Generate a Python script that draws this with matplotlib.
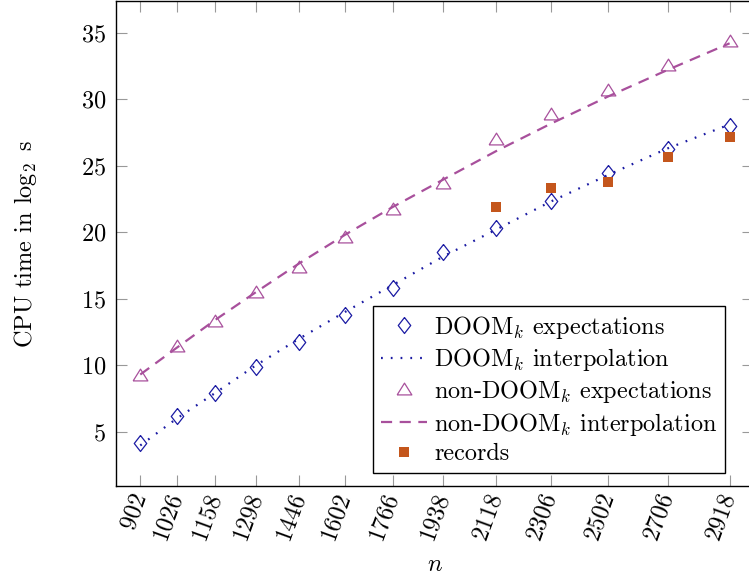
import matplotlib
matplotlib.use("Agg")
import matplotlib.pyplot as plt

plt.rcParams["font.family"] = "serif"
plt.rcParams["font.serif"] = ["cmr10", "DejaVu Serif"]
plt.rcParams["mathtext.fontset"] = "cm"
plt.rcParams["axes.formatter.use_mathtext"] = True
plt.rcParams["axes.unicode_minus"] = False

# problem sizes
n = [902, 1026, 1158, 1298, 1446, 1602, 1766, 1938, 2118, 2306, 2502, 2706, 2918]
n_labels = [str(v) for v in n]

# CPU time, log2 seconds
doom_exp = [4.15, 6.16, 7.94, 9.87, 11.76, 13.77, 15.83, 18.49, 20.33, 22.37, 24.45, 26.27, 28.02]
doom_interp = [3.97, 5.98, 7.91, 10.0, 12.0, 14.0, 16.03, 18.17, 20.18, 22.3, 24.3, 26.3, 28.1]
nondoom_exp = [9.17, 11.38, 13.24, 15.45, 17.29, 19.55, 21.68, 23.6, 26.95, 28.82, 30.62, 32.52, 34.32]
nondoom_interp = [9.3, 11.3, 13.4, 15.5, 17.66, 19.8, 21.9, 23.95, 26.08, 28.15, 30.2, 32.2, 34.2]
rec_n = [2118, 2306, 2502, 2706, 2918]
records = [21.9, 23.3, 23.75, 25.67, 27.17]

blue = "#1a1aa3"
purple = "#a8509c"
orange = "#c4561c"
fs = 17.5

diamond = [(0, 1), (0.78, 0), (0, -1), (-0.78, 0), (0, 1)]
triangle = [(-1, -0.6), (1, -0.6), (0, 1.0), (-1, -0.6)]

fig = plt.figure(figsize=(7.49, 5.76), dpi=100)
ax = fig.add_axes([116 / 749, 1 - 486 / 576, (753 - 116) / 749, (486 - 1) / 576])

ax.plot(n, doom_exp, linestyle="none", marker=diamond, markersize=11.5,
        markerfacecolor="none", markeredgecolor=blue, markeredgewidth=0.9,
        label=r"DOOM$_k$ expectations", zorder=3)
ax.plot(n, doom_interp, color=blue, linewidth=1.6, linestyle=(0, (0.8, 3.6)),
        label=r"DOOM$_k$ interpolation", zorder=2)
ax.plot(n, nondoom_exp, linestyle="none", marker=triangle, markersize=10.6,
        markerfacecolor="none", markeredgecolor=purple, markeredgewidth=0.9,
        label=r"non-DOOM$_k$ expectations", zorder=3)
ax.plot(n, nondoom_interp, color=purple, linewidth=1.6, linestyle=(0, (5, 3.4)),
        label=r"non-DOOM$_k$ interpolation", zorder=2)
ax.plot(rec_n, records, linestyle="none", marker="s", markersize=7,
        color=orange, markeredgewidth=0, label="records", zorder=4)

ax.set_xlim(819, 2998)
ax.set_ylim(0.92, 37.38)
ax.set_xticks(n, labels=n_labels)
ax.set_yticks([5, 10, 15, 20, 25, 30, 35])

ax.tick_params(direction="in", top=True, right=True, length=8, width=0.8,
               color="#999999", labelsize=fs)
ax.tick_params(axis="y", pad=7)
ax.tick_params(axis="x", pad=5)
for lab in ax.get_xticklabels():
    lab.set_rotation(70)
    lab.set_ha("right")
    lab.set_va("center")
    lab.set_rotation_mode("anchor")

for sp in ax.spines.values():
    sp.set_linewidth(1.0)

ax.set_xlabel(r"$n$", fontsize=fs, labelpad=8)
ax.set_ylabel(r"CPU time in $\log_2$ s", fontsize=fs, labelpad=30)

leg = ax.legend(loc="upper left", bbox_to_anchor=(373 / 749, 1 - 306 / 576),
                bbox_transform=fig.transFigure, fontsize=fs, frameon=True,
                fancybox=False, edgecolor="black", framealpha=1,
                borderpad=0.32, labelspacing=0.22, handlelength=1.9,
                handletextpad=0.3, borderaxespad=0)
leg.get_frame().set_linewidth(1.0)

fig.savefig("out.png", dpi=100)
